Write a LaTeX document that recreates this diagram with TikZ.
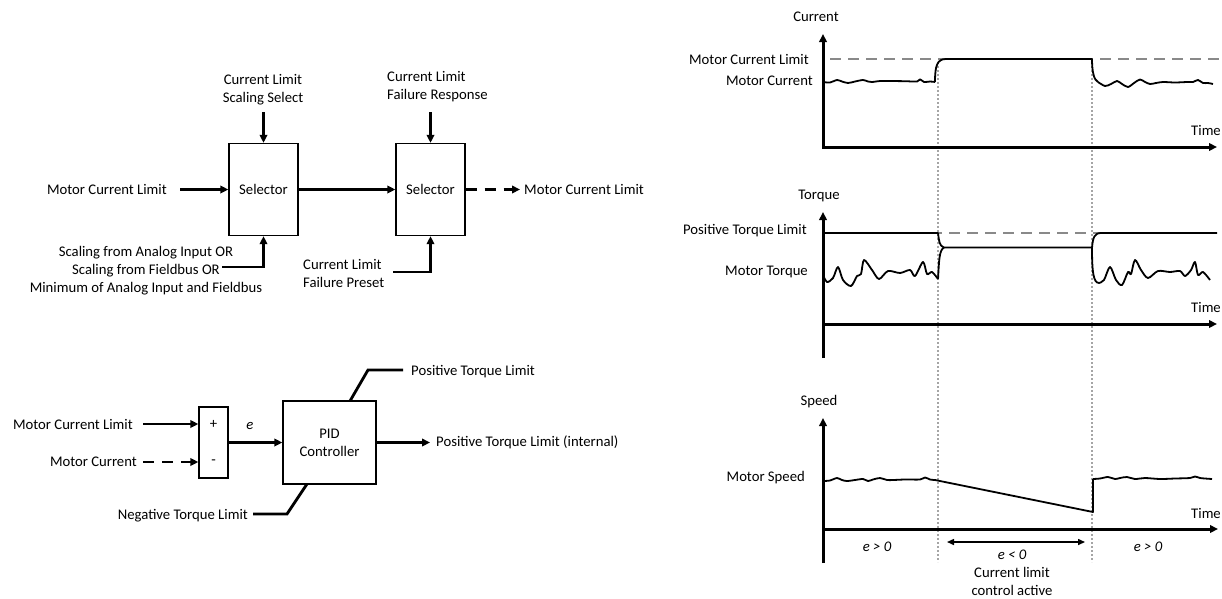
\documentclass[tikz,border=0pt]{standalone}
\usepackage{fontspec}
\setmainfont{Carlito}
\usetikzlibrary{arrows.meta,calc}
\definecolor{dgray}{RGB}{137,137,137}
\definecolor{lgray}{RGB}{165,165,165}
\begin{document}
\begin{tikzpicture}[x=1pt,y=-1pt,
  font=\fontsize{14.7}{18}\selectfont,
  box/.style={draw,line width=1.3pt,inner sep=0pt},
  lbl/.style={inner sep=0pt},
  tip/.style={-{Triangle[length=8pt,width=7.5pt]}},
  arr/.style={line width=2.8pt,tip},
  ln/.style={line width=2.8pt},
  dsh/.style={line width=2.8pt,dash pattern=on 11pt off 8pt},
  axisline/.style={line width=3pt},
  curve/.style={line width=1.8pt,line join=round},
  graydash/.style={draw=dgray,line width=2.8pt,dash pattern=on 11pt off 7pt},
  dotline/.style={draw=lgray,line width=2.3pt,dash pattern=on 2pt off 2pt},
]
\useasboundingbox (0,0) rectangle (1222,598);

% ---------------- Top selector chain ----------------
\node[box,minimum width=69pt,minimum height=92pt] (sel1) at (263.5,189.5) {Selector};
\node[box,minimum width=69pt,minimum height=92pt] (sel2) at (430.5,189.5) {Selector};

\node[lbl,align=center] (cls) at (263,89.5) {Current Limit\\Scaling Select};
\coordinate (clsE) at (263.5,112);
\draw[arr] (clsE) -- (sel1.north);

\node[lbl,anchor=east] (mcl1) at (167,189.5) {Motor Current Limit};
\coordinate (mcl1E) at (180,189.5);
\draw[arr] (mcl1E) -- (sel1.west);

\node[lbl,align=center] (scal) at (146,271) {Scaling from Analog Input OR\\Scaling from Fieldbus OR\\Minimum of Analog Input and Fieldbus};
\coordinate (scalE) at (222,267);
\draw[arr] (scalE) -| (sel1.south);

\draw[arr] (sel1.east) -- (sel2.west);

\node[lbl,align=left,anchor=west] (clfr) at (387,87) {Current Limit\\Failure Response};
\coordinate (clfrE) at (430.5,112);
\draw[arr] (clfrE) -- (sel2.north);

\node[lbl,align=left,anchor=west] (clfp) at (303,273) {Current Limit\\Failure Preset};
\coordinate (clfpE) at (393,272);
\draw[arr] (clfpE) -| (sel2.south);

\coordinate (out1) at (520,189.5);
\draw[dsh,tip] (sel2.east) -- (out1);
\node[lbl,anchor=west] (mcl2) at (524,189.5) {Motor Current Limit};

% ---------------- PID loop ----------------
\node[box,minimum width=29pt,minimum height=71pt] (sum) at (213.5,442.5) {};
\node[lbl] (plus) at (213.5,424) {+};
\node[lbl] (minus) at (213.5,462) {-};

\node[lbl,anchor=east] (mcl3) at (133,424) {Motor Current Limit};
\coordinate (mcl3E) at (143,424);
\draw[arr] (mcl3E) -- (mcl3E -| sum.west);

\node[lbl,anchor=east] (mc) at (137,462) {Motor Current};
\coordinate (mcE) at (143,462);
\draw[dsh,tip] (mcE) -- (mcE -| sum.west);

\node[box,minimum width=93pt,minimum height=83pt,align=center] (pid) at (329.5,442.5) {PID\\Controller};
\draw[arr] (sum.east) -- (pid.west);
\node[lbl] (elab) at (250,426) {\itshape e};

\coordinate (ptlO) at (430,442.5);
\draw[arr] (pid.east) -- (ptlO);
\node[lbl,anchor=west] (ptli) at (436,442.5) {Positive Torque Limit (internal)};

\coordinate (p1) at (350,401);
\coordinate (p2) at (368,370);
\coordinate (p3) at (403,370);
\node[lbl,anchor=west] (ptl) at (411,372) {Positive Torque Limit};
\draw[ln] (p1) -- (p2) -- (p3);

\coordinate (n1) at (307,484);
\coordinate (n2) at (287,514);
\coordinate (n3) at (253,514);
\node[lbl,anchor=east] (ntl) at (248,516) {Negative Torque Limit};
\draw[ln] (n1) -- (n2) -- (n3);

% ---------------- Graphs: dotted markers ----------------
\coordinate (d1t) at (938,62);
\coordinate (d1b) at (938,562);
\coordinate (d2t) at (1092,62);
\coordinate (d2b) at (1092,562);
\draw[dotline] (d1t) -- (d1b);
\draw[dotline] (d2t) -- (d2b);

% ---------------- Current graph ----------------
\coordinate (cT) at (823,34);
\coordinate (cO) at (823,147);
\coordinate (cR) at (1217,147);
\draw[axisline,{Triangle[length=8pt,width=7.5pt]}-{Triangle[length=8pt,width=7.5pt]}] (cT) -- (cO) -- (cR);
\node[lbl] (curl) at (816,17) {Current};
\node[lbl,anchor=east] (ctime) at (1221,130) {Time};
\node[lbl,anchor=east] (cmcl) at (809,59) {Motor Current Limit};
\node[lbl,anchor=east] (cmc) at (813,81) {Motor Current};
\draw[graydash] (830,59) -- (1222,59);
\draw[curve] plot[smooth,tension=0.5] coordinates {(823,82) (830,82.5) (837,80) (842,81.5) (848,83) (855,81.5) (863,80) (868,81.5) (872,82) (880,81) (890,81) (905,81.2) (917,81.5) (920,79.3) (924,82) (930,81.5) (935,82)};
\draw[curve] (935,82) .. controls (935,66) and (937,59) .. (946,59) -- (1092,59) .. controls (1092,72) and (1094,80) .. (1098,82);
\draw[curve] plot[smooth,tension=0.5] coordinates {(1098,82) (1105,86) (1111,84) (1117,81) (1122,84) (1128,87) (1134,83) (1140,79.5) (1145,82) (1150,84) (1156,83) (1163,82) (1175,82.5) (1187,82) (1193,82) (1198,80) (1203,83) (1208,83) (1213,84)};

% ---------------- Torque graph ----------------
\coordinate (tB) at (823,358);
\coordinate (tT) at (823,212);
\coordinate (tA) at (823,324);
\coordinate (tR) at (1217,324);
\draw[axisline,tip] (tB) -- (tT);
\draw[axisline,tip] (tA) -- (tR);
\node[lbl] (torl) at (819,196) {Torque};
\node[lbl,anchor=east] (ttime) at (1221,307) {Time};
\node[lbl,anchor=east] (tptl) at (807,231) {Positive Torque Limit};
\node[lbl,anchor=east] (tmt) at (808,272) {Motor Torque};
\draw[graydash] (823,233) -- (1217,233);
\draw[curve] (823,233) -- (938,233) .. controls (939,240) and (939,246) .. (944,247.5) -- (1092,247.5) .. controls (1093,238) and (1094,233) .. (1101,233) -- (1217,233);
\draw[curve] plot[smooth,tension=0.5] coordinates {(823,275) (827,282) (833,278) (838,267) (843,280) (851,286) (857,276) (861,274) (864,260) (872,270) (879,279) (888,271) (900,273) (910,270) (915,276) (923,262) (927,274) (932,272) (938,279)};
\draw[curve] (938,279) .. controls (939,262) and (939,250) .. (944,247.5);
\draw[curve] (1092,247.5) .. controls (1092,270) and (1093,283) .. (1099,283);
\draw[curve] plot[smooth,tension=0.5] coordinates {(1099,283) (1104,280) (1110,267) (1116,280) (1122,285) (1128,272) (1131,274) (1135,260) (1141,270) (1148,278) (1158,271) (1170,272) (1180,271) (1185,276) (1191,270) (1195,262) (1198,275) (1203,272) (1210,280)};

% ---------------- Speed graph ----------------
\coordinate (sB) at (823,563);
\coordinate (sT) at (823,418);
\coordinate (sA) at (823,529);
\coordinate (sR) at (1218,529);
\draw[axisline,tip] (sB) -- (sT);
\draw[axisline,tip] (sA) -- (sR);
\node[lbl] (spl) at (819,402) {Speed};
\node[lbl,anchor=east] (stime) at (1221,513) {Time};
\node[lbl,anchor=east] (sms) at (805,478) {Motor Speed};
\draw[curve] plot[smooth,tension=0.5] coordinates {(823,481) (830,480.5) (837,478) (842,480) (847,481) (855,480) (863,479) (868,481) (873,479.5) (880,478) (887,480) (893,480) (905,479.5) (920,479.5) (925,477.5) (930,479.5) (935,480)};
\draw[curve] (935,480) -- (1093,512) -- (1093,479);
\draw[curve] plot[smooth,tension=0.5] coordinates {(1093,479) (1100,478.5) (1108,477) (1115,479) (1120,478) (1127,477) (1135,479) (1145,478) (1160,479) (1175,478.5) (1190,478) (1195,476.5) (1200,478) (1205,478.5) (1212,479)};

\node[lbl] (ep1) at (877,547) {\itshape e > 0};
\node[lbl] (ep2) at (1148,547) {\itshape e > 0};
\coordinate (da1) at (947,542);
\coordinate (da2) at (1085,542);
\draw[line width=1.5pt,{Triangle[length=7pt,width=6pt]}-{Triangle[length=7pt,width=6pt]}] (da1) -- (da2);
\node[lbl,align=center] (eneg) at (1012,573) {\itshape e < 0\\Current limit\\control active};
\end{tikzpicture}
\end{document}
